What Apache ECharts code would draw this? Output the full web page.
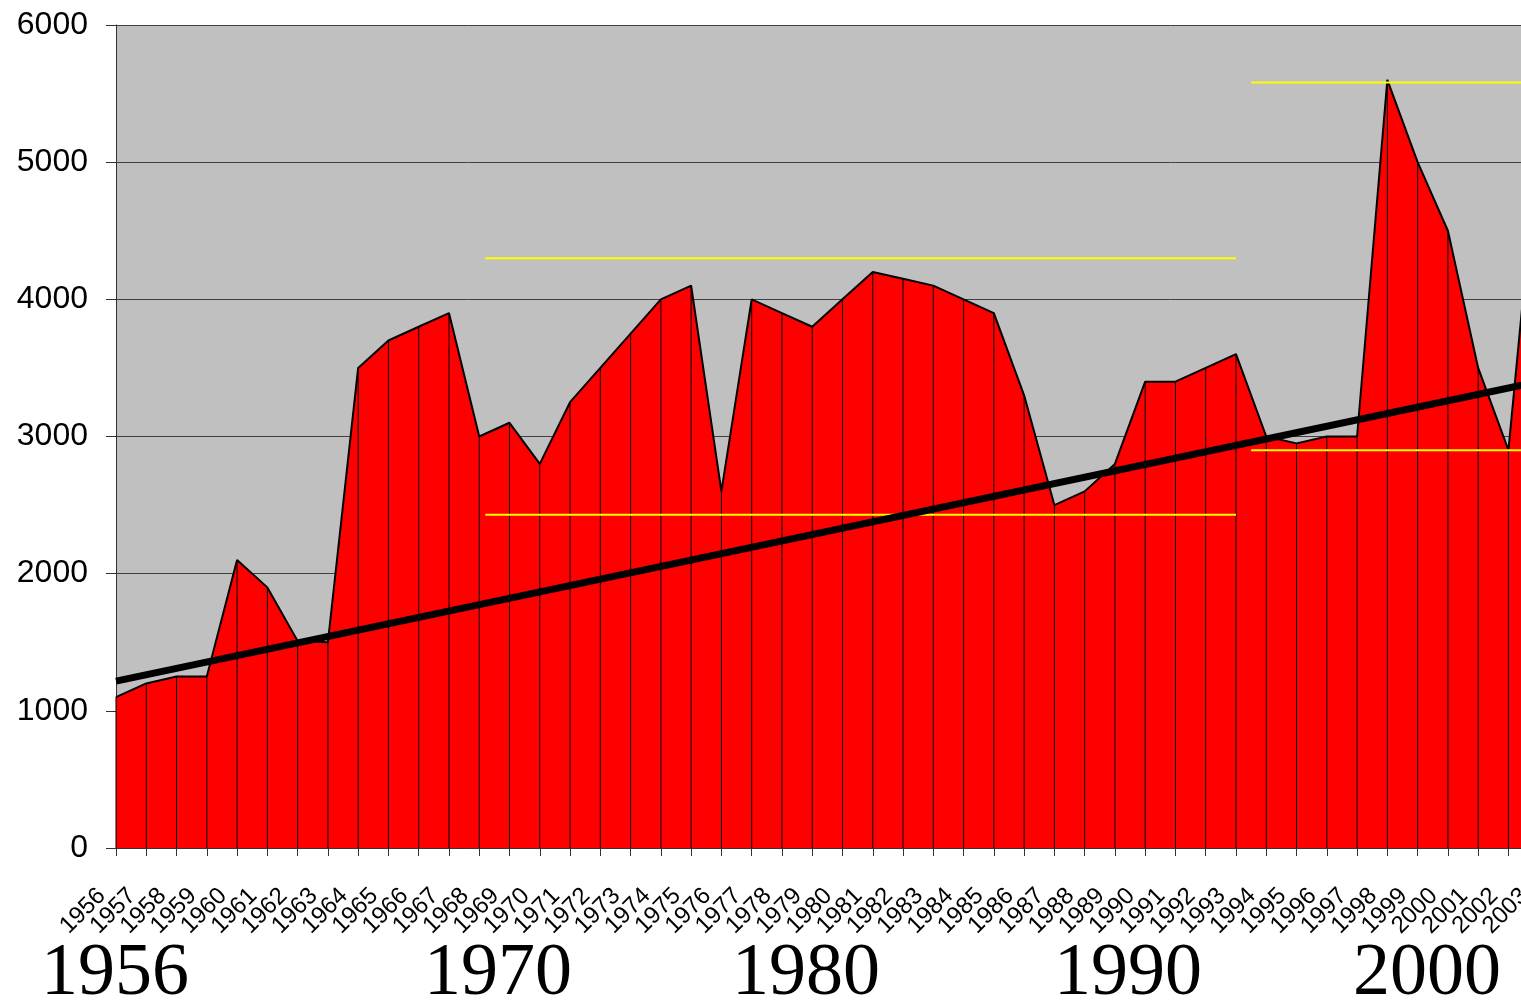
<!DOCTYPE html>
<html>
<head>
<meta charset="utf-8">
<title>1956-2003</title>
<script src="https://cdn.jsdelivr.net/npm/echarts@6/dist/echarts.min.js"></script>
<style>
  html, body { margin: 0; padding: 0; background: #fff; }
  #chart { width: 1521px; height: 1005px; }
</style>
</head>
<body>
<div id="chart"></div>
<script>
// categories (years) and yearly values
var years = [];
for (var y = 1956; y <= 2003; y++) years.push(String(y));

var values = [
  1100, 1200, 1250, 1250, 2100, 1900, 1510, 1500, 3500, 3700,   // 1956-1965
  3800, 3900, 3000, 3100, 2800, 3250, 3500, 3750, 4000, 4100,   // 1966-1975
  2600, 4000, 3900, 3800, 4000, 4200, 4150, 4100, 4000, 3900,   // 1976-1985
  3300, 2500, 2600, 2800, 3400, 3400, 3500, 3600, 3000, 2950,   // 1986-1995
  3000, 3000, 5600, 5000, 4500, 3500, 2900, 5200                // 1996-2003
];

var yTicks = [0, 1000, 2000, 3000, 4000, 5000, 6000];

// linear trend, start / end value (at index 0 and 47)
var trendIdx = [0, 47];
var trendVal = [1217, 3400];

// yellow reference lines: [fromIndex, toIndex, value]
var levelLeftHigh = [12.2, 37, 4300];
var levelLeftLow = [12.2, 37, 2430];
var levelRightHigh = [37.5, 47, 5580];
var levelRightLow = [37.5, 47, 2900];

var bigYears = ['1956', '1970', '1980', '1990', '2000'];
var bigYearsX = [115, 498, 806, 1128, 1427];

function seg(l) {
  return [[l[0], l[2]], [l[1], l[2]]];
}

var chart = echarts.init(document.getElementById('chart'));

var option = {
  backgroundColor: '#fff',
  animation: false,
  grid: {
    left: 116,
    top: 25,
    right: -17.7,   // plot runs past the right edge, 2003 is cut off
    bottom: 157,
    outerBoundsMode: 'none',
    containLabel: false,
    show: true,
    backgroundColor: '#c0c0c0',
    borderWidth: 0
  },
  xAxis: [{
    type: 'category',
    data: years,
    boundaryGap: false,
    axisLine: { lineStyle: { color: '#333', width: 1 } },
    axisTick: { show: true, length: 8, interval: 0, lineStyle: { color: '#333' } },
    axisLabel: {
      interval: 0,
      rotate: 45,
      margin: 30,
      padding: [0, 20, 0, 0],
      fontSize: 24,
      color: '#000',
      fontFamily: 'Liberation Sans, Arial, sans-serif'
    },
    splitLine: { show: false }
  }, {
    // hidden value axis, same span, for the trend and level lines
    type: 'value',
    min: 0,
    max: 47,
    show: false
  }],
  yAxis: {
    type: 'value',
    min: yTicks[0],
    max: yTicks[yTicks.length - 1],
    interval: 1000,
    axisLine: { show: true, lineStyle: { color: '#333', width: 1 } },
    axisTick: { show: true, length: 10, lineStyle: { color: '#333' } },
    axisLabel: {
      margin: 28,
      fontSize: 32,
      color: '#000',
      fontFamily: 'Liberation Sans, Arial, sans-serif',
      formatter: function (v) { return String(v); }
    },
    splitLine: { show: true, lineStyle: { color: '#404040', width: 1 } }
  },
  series: [
    {
      type: 'line',
      data: values,
      symbol: 'none',
      z: 2,
      lineStyle: { color: '#000', width: 2 },
      areaStyle: { color: '#ff0000', opacity: 1 }
    },
    {
      // drop lines under every point
      type: 'bar',
      data: values,
      barWidth: 1,
      z: 3,
      itemStyle: { color: '#000' },
      silent: true
    },
    {
      type: 'line',
      xAxisIndex: 1,
      data: seg(levelLeftHigh),
      symbol: 'none',
      z: 4,
      lineStyle: { color: '#ffff00', width: 2 }
    },
    {
      type: 'line',
      xAxisIndex: 1,
      data: seg(levelLeftLow),
      symbol: 'none',
      z: 4,
      lineStyle: { color: '#ffff00', width: 2 }
    },
    {
      type: 'line',
      xAxisIndex: 1,
      data: seg(levelRightHigh),
      symbol: 'none',
      z: 4,
      lineStyle: { color: '#ffff00', width: 2 }
    },
    {
      type: 'line',
      xAxisIndex: 1,
      data: seg(levelRightLow),
      symbol: 'none',
      z: 4,
      lineStyle: { color: '#ffff00', width: 2 }
    },
    {
      type: 'line',
      xAxisIndex: 1,
      data: [[trendIdx[0], trendVal[0]], [trendIdx[1], trendVal[1]]],
      symbol: 'none',
      z: 5,
      lineStyle: { color: '#000', width: 7 }
    }
  ],
  graphic: bigYears.map(function (t, i) {
    return {
      type: 'text',
      x: bigYearsX[i],
      y: 975,
      style: {
        text: t,
        font: '74px "Liberation Serif", "Times New Roman", serif',
        fill: '#000',
        textAlign: 'center',
        textVerticalAlign: 'middle'
      }
    };
  })
};

chart.setOption(option);
</script>
</body>
</html>
